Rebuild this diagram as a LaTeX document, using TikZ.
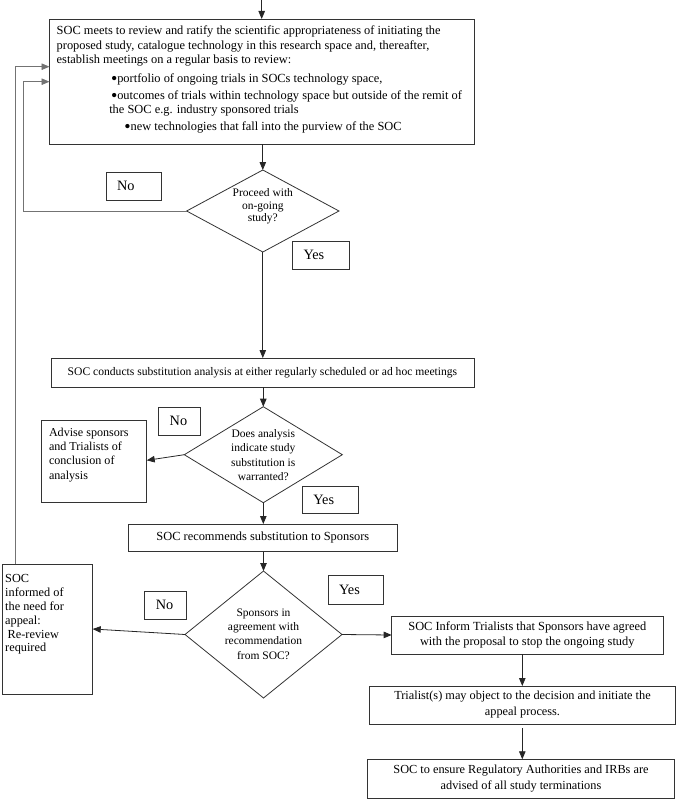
\documentclass[tikz,border=0pt]{standalone}
\usepackage{fontspec}
\setmainfont{Liberation Serif}
\usetikzlibrary{arrows.meta,shapes.geometric,calc}
\newcommand{\bigbul}{\raisebox{-2.2pt}{\scalebox{1.45}{•}}}
\begin{document}
\begin{tikzpicture}[x=1pt,y=-1pt,
  every node/.style={inner sep=0pt,outer sep=0pt},
  boxfont/.style={font=\fontsize{12.4}{14.3}\selectfont},
  box/.style={draw=black!80,line width=0.8pt,boxfont,align=center},
  txt/.style={boxfont,align=left,anchor=north west},
  dtxt/.style={align=center,font=\fontsize{11.5}{14.2}\selectfont},
  lab/.style={draw=black!80,line width=0.8pt,font=\fontsize{14.3}{17}\selectfont,align=left,inner xsep=11pt},
  dia/.style={draw=black!80,line width=0.8pt,shape=diamond},
  arr/.style={draw=black!85,line width=0.8pt,-{Triangle[length=8pt,width=6.5pt]}},
  loop/.style={draw=black!55,line width=0.9pt,-{Triangle[length=8pt,width=6.5pt]}}
]
\useasboundingbox (0,0) rectangle (678,800);

% top box
\coordinate (top) at (261.7,0);
\node[box,minimum width=424.5pt,minimum height=125pt] (b1) at (261.75,81.5) {};
\node[txt] (b1t) at (56.7,26) {SOC meets to review and ratify the scientific appropriateness of initiating the\\
proposed study, catalogue technology in this research space and, thereafter,\\
establish meetings on a regular basis to review:\\[4.4pt]
\hspace*{54.3pt}\bigbul portfolio of ongoing trials in SOCs technology space,\\[2.7pt]
\hspace*{54.3pt}\bigbul outcomes of trials within technology space but outside of the remit of\\
\hspace*{52.6pt}the SOC e.g. industry sponsored trials\\[3.1pt]
\hspace*{67.6pt}\bigbul new technologies that fall into the purview of the SOC};

% diamond 1
\node[dia,minimum width=152.3pt,minimum height=82pt] (d1) at (262.8,211) {};
\node[dtxt,font=\fontsize{11.5}{12.5}\selectfont] (d1t) at (262.8,206.5) {Proceed with\\on-going\\study?};
\node[lab,text width=33.6pt,minimum height=28pt] (no1) at (133.8,186) {No};
\node[lab,text width=35pt,minimum height=28pt] (yes1) at (321,255) {Yes};

% box 2
\node[box,minimum width=423.1pt,minimum height=29pt,font=\fontsize{11.6}{14.3}\selectfont] (b2) at (262.45,372.5) {SOC conducts substitution analysis at either regularly scheduled or ad hoc meetings};

% diamond 2
\node[dia,minimum width=158pt,minimum height=96pt] (d2) at (263.3,454.7) {};
\node[dtxt] (d2t) at (263.3,455) {Does analysis\\indicate study\\substitution is\\warranted?};
\node[lab,text width=19.6pt,minimum height=27.7pt] (no2) at (179.5,421.2) {No};
\node[lab,text width=34pt,minimum height=27pt] (yes2) at (330.3,499.5) {Yes};
\node[box,minimum width=105.7pt,minimum height=82.3pt] (adv) at (93.85,461.15) {};
\node[txt,font=\fontsize{12.1}{14.1}\selectfont] (advt) at (49,428.3) {Advise sponsors\\and Trialists of\\conclusion of\\analysis};

% box 3
\node[box,minimum width=268.3pt,minimum height=27.7pt] (b3) at (262.85,537.85) {SOC recommends substitution to Sponsors};

% diamond 3
\node[dia,minimum width=157pt,minimum height=127pt] (d3) at (263.5,634.5) {};
\node[dtxt] (d3t) at (263.5,634) {Sponsors in\\agreement with\\recommendation\\from SOC?};
\node[lab,text width=19.4pt,minimum height=28pt] (no3) at (165.5,605) {No};
\node[lab,text width=33.3pt,minimum height=29.7pt] (yes3) at (355.7,589.8) {Yes};
\node[box,minimum width=90.5pt,minimum height=130pt] (inf) at (47.45,629) {};
\node[txt,font=\fontsize{12.3}{13.9}\selectfont] (inft) at (5.2,574.3) {SOC\\informed of\\the need for\\appeal:\\\hspace*{2.5pt}Re-review\\required};

% right column
\node[box,minimum width=271.3pt,minimum height=38pt] (b4) at (527.3,635) {SOC Inform Trialists that Sponsors have agreed\\with the proposal to stop the ongoing study};
\node[box,minimum width=306.4pt,minimum height=38pt,font=\fontsize{12.3}{16}\selectfont] (b5) at (522.5,705) {Trialist(s) may object to the decision and initiate the\\appeal process.};
\node[box,minimum width=307.4pt,minimum height=39pt,font=\fontsize{12.3}{16}\selectfont] (b6) at (521,778.8) {SOC to ensure Regulatory Authorities and IRBs are\\advised of all study terminations};

% connectors
\draw[arr] (top) -- (b1.north -| top);
\draw[arr] (b1.south -| d1.north) -- (d1.north);
\draw[arr] (d1.south) -- (b2.north -| d1.south);
\draw[arr] (b2.south -| d2.north) -- (d2.north);
\draw[arr] (d2.south) -- (b3.north -| d2.south);
\draw[arr] (b3.south -| d3.north) -- (d3.north);
\draw[arr] (d2.west) -- ($(adv.east)+(0,-0.8)$);
\draw[arr] (d3.west) -- (inf.east);
\draw[arr] (d3.east) -- (b4.west);
\coordinate (c45) at (522.3,0);
\draw[arr] (b4.south -| c45) -- (b5.north -| c45);
\draw[arr,shorten <=4pt] (b5.south -| c45) -- (b6.north -| c45);

% loops
\coordinate (l1) at (23.3,0);
\coordinate (y1) at (0,81.7);
\draw[loop] (d1.west) -- (d1.west -| l1) -- (l1 |- y1) -- (b1.west |- y1);
\coordinate (l2) at (15.5,0);
\coordinate (y2) at (0,66.7);
\draw[loop] (inf.north -| l2) -- (l2 |- y2) -- (b1.west |- y2);
\end{tikzpicture}
\end{document}
